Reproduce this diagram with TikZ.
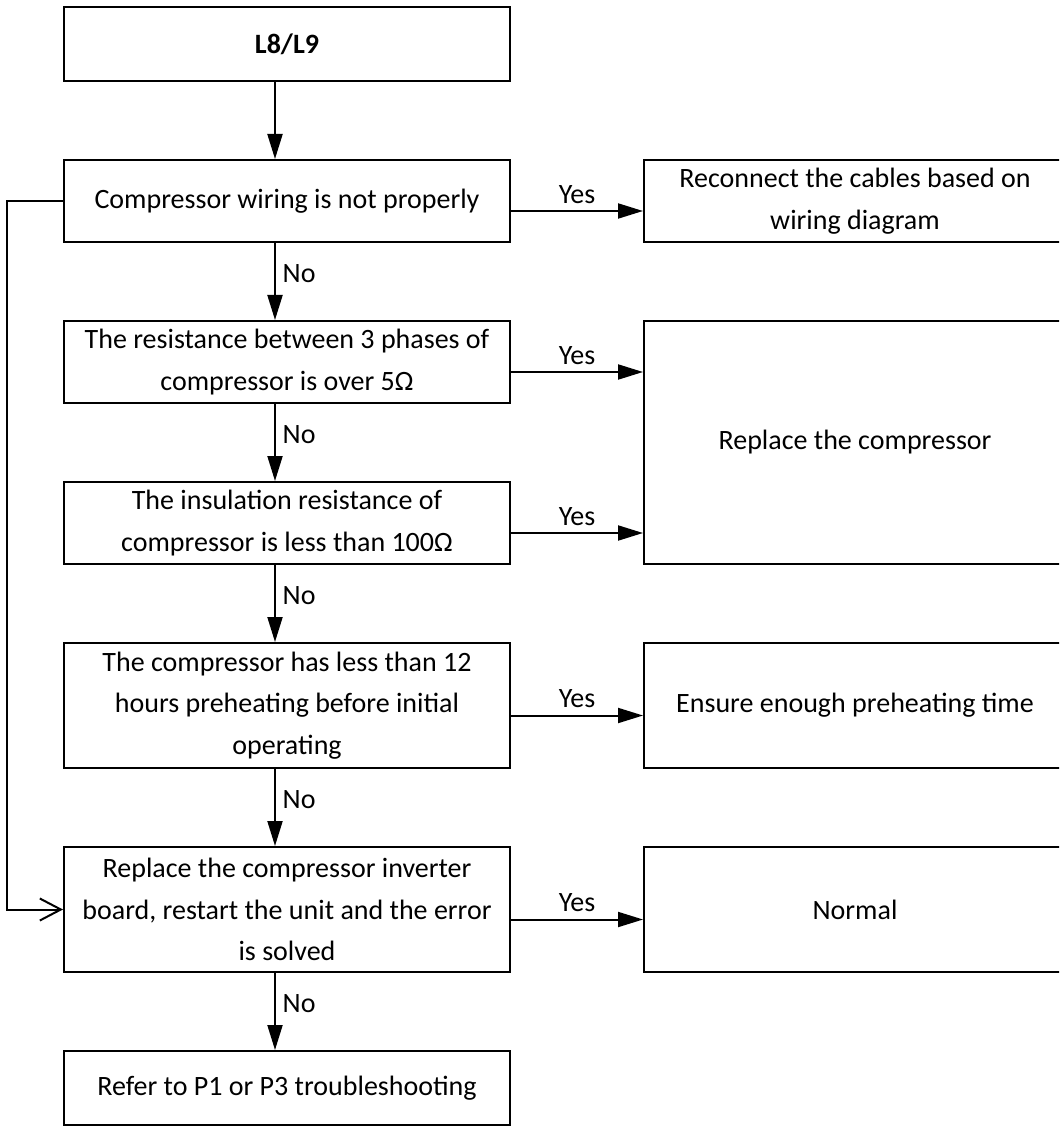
\documentclass[tikz,border=0pt]{standalone}
\usepackage{fontspec}
\setmainfont{Carlito}
\usepackage{tikz}
\usetikzlibrary{arrows.meta,calc,positioning}
\tikzset{box/.style={draw,line width=1pt,minimum width=223pt,minimum height=41pt,align=center},wide/.style={box,minimum width=211pt},flow/.style={-{Triangle[length=12.5pt,width=7.5pt]},line width=1pt},back/.style={-{Straight Barb[length=10.5pt,width=11pt]},line width=1pt}}

\begin{document}
\begin{tikzpicture}[node distance=38.5pt and 66pt,font=\fontsize{14pt}{20.75pt}\selectfont]
\useasboundingbox (0,0) rectangle (529.5pt,-564pt);
\clip (0,0) rectangle (529.5pt,-564pt);
\node[box,minimum height=37pt] (st) at (143.5pt,-22pt) {\textbf{L8/L9}};
\node[box,below=of st] (wr) {Compressor wiring is not properly};
\node[box,below=of wr] (rs) {The resistance between 3 phases of\\compressor is over 5Ω};
\node[box,below=of rs] (ins) {The insulation resistance of\\compressor is less than 100Ω};
\node[box,minimum height=62.5pt,below=of ins] (ph) {The compressor has less than 12\\hours preheating before initial\\operating};
\node[box,minimum height=62.5pt,below=of ph] (inv) {Replace the compressor inverter\\board, restart the unit and the error\\is solved};
\node[box,minimum height=37pt,below=of inv] (ref) {Refer to P1 or P3 troubleshooting};
\node[wide,right=of wr] (rc) {Reconnect the cables based on\\wiring diagram};
\node[wide,minimum height=121.5pt,right=of rs.north east,anchor=north west] (rp) {Replace the compressor};
\node[wide,minimum height=62.5pt,right=of ph] (en) {Ensure enough preheating time};
\node[wide,minimum height=62.5pt,right=of inv] (nm) {Normal};
\draw[flow] ([xshift=-6pt]st.south)--([xshift=-6pt]wr.north);
\draw[flow] ([xshift=-6pt]wr.south)--([xshift=-6pt]rs.north) node[pos=.4,right]{No};
\draw[flow] ([xshift=-6pt]rs.south)--([xshift=-6pt]ins.north) node[pos=.4,right]{No};
\draw[flow] ([xshift=-6pt]ins.south)--([xshift=-6pt]ph.north) node[pos=.4,right]{No};
\draw[flow] ([xshift=-6pt]ph.south)--([xshift=-6pt]inv.north) node[pos=.4,right]{No};
\draw[flow] ([xshift=-6pt]inv.south)--([xshift=-6pt]ref.north) node[pos=.4,right]{No};
\draw[flow] ([yshift=-5pt]wr.east)--([yshift=-5pt]rc.west) node[midway,above]{Yes};
\draw[flow] ($(rs.east)+(0,-5pt)$)--($(rs.east -| rp.west)+(0,-5pt)$) node[midway,above]{Yes};
\draw[flow] ($(ins.east)+(0,-5pt)$)--($(ins.east -| rp.west)+(0,-5pt)$) node[midway,above]{Yes};
\draw[flow] ([yshift=-5pt]ph.east)--([yshift=-5pt]en.west) node[midway,above]{Yes};
\draw[flow] ([yshift=-5pt]inv.east)--([yshift=-5pt]nm.west) node[midway,above]{Yes};
\coordinate (turn) at (3.5pt,0);
\draw[back] (wr.west)--(wr.west -| turn)|-(inv.west);
\end{tikzpicture}
\end{document}
